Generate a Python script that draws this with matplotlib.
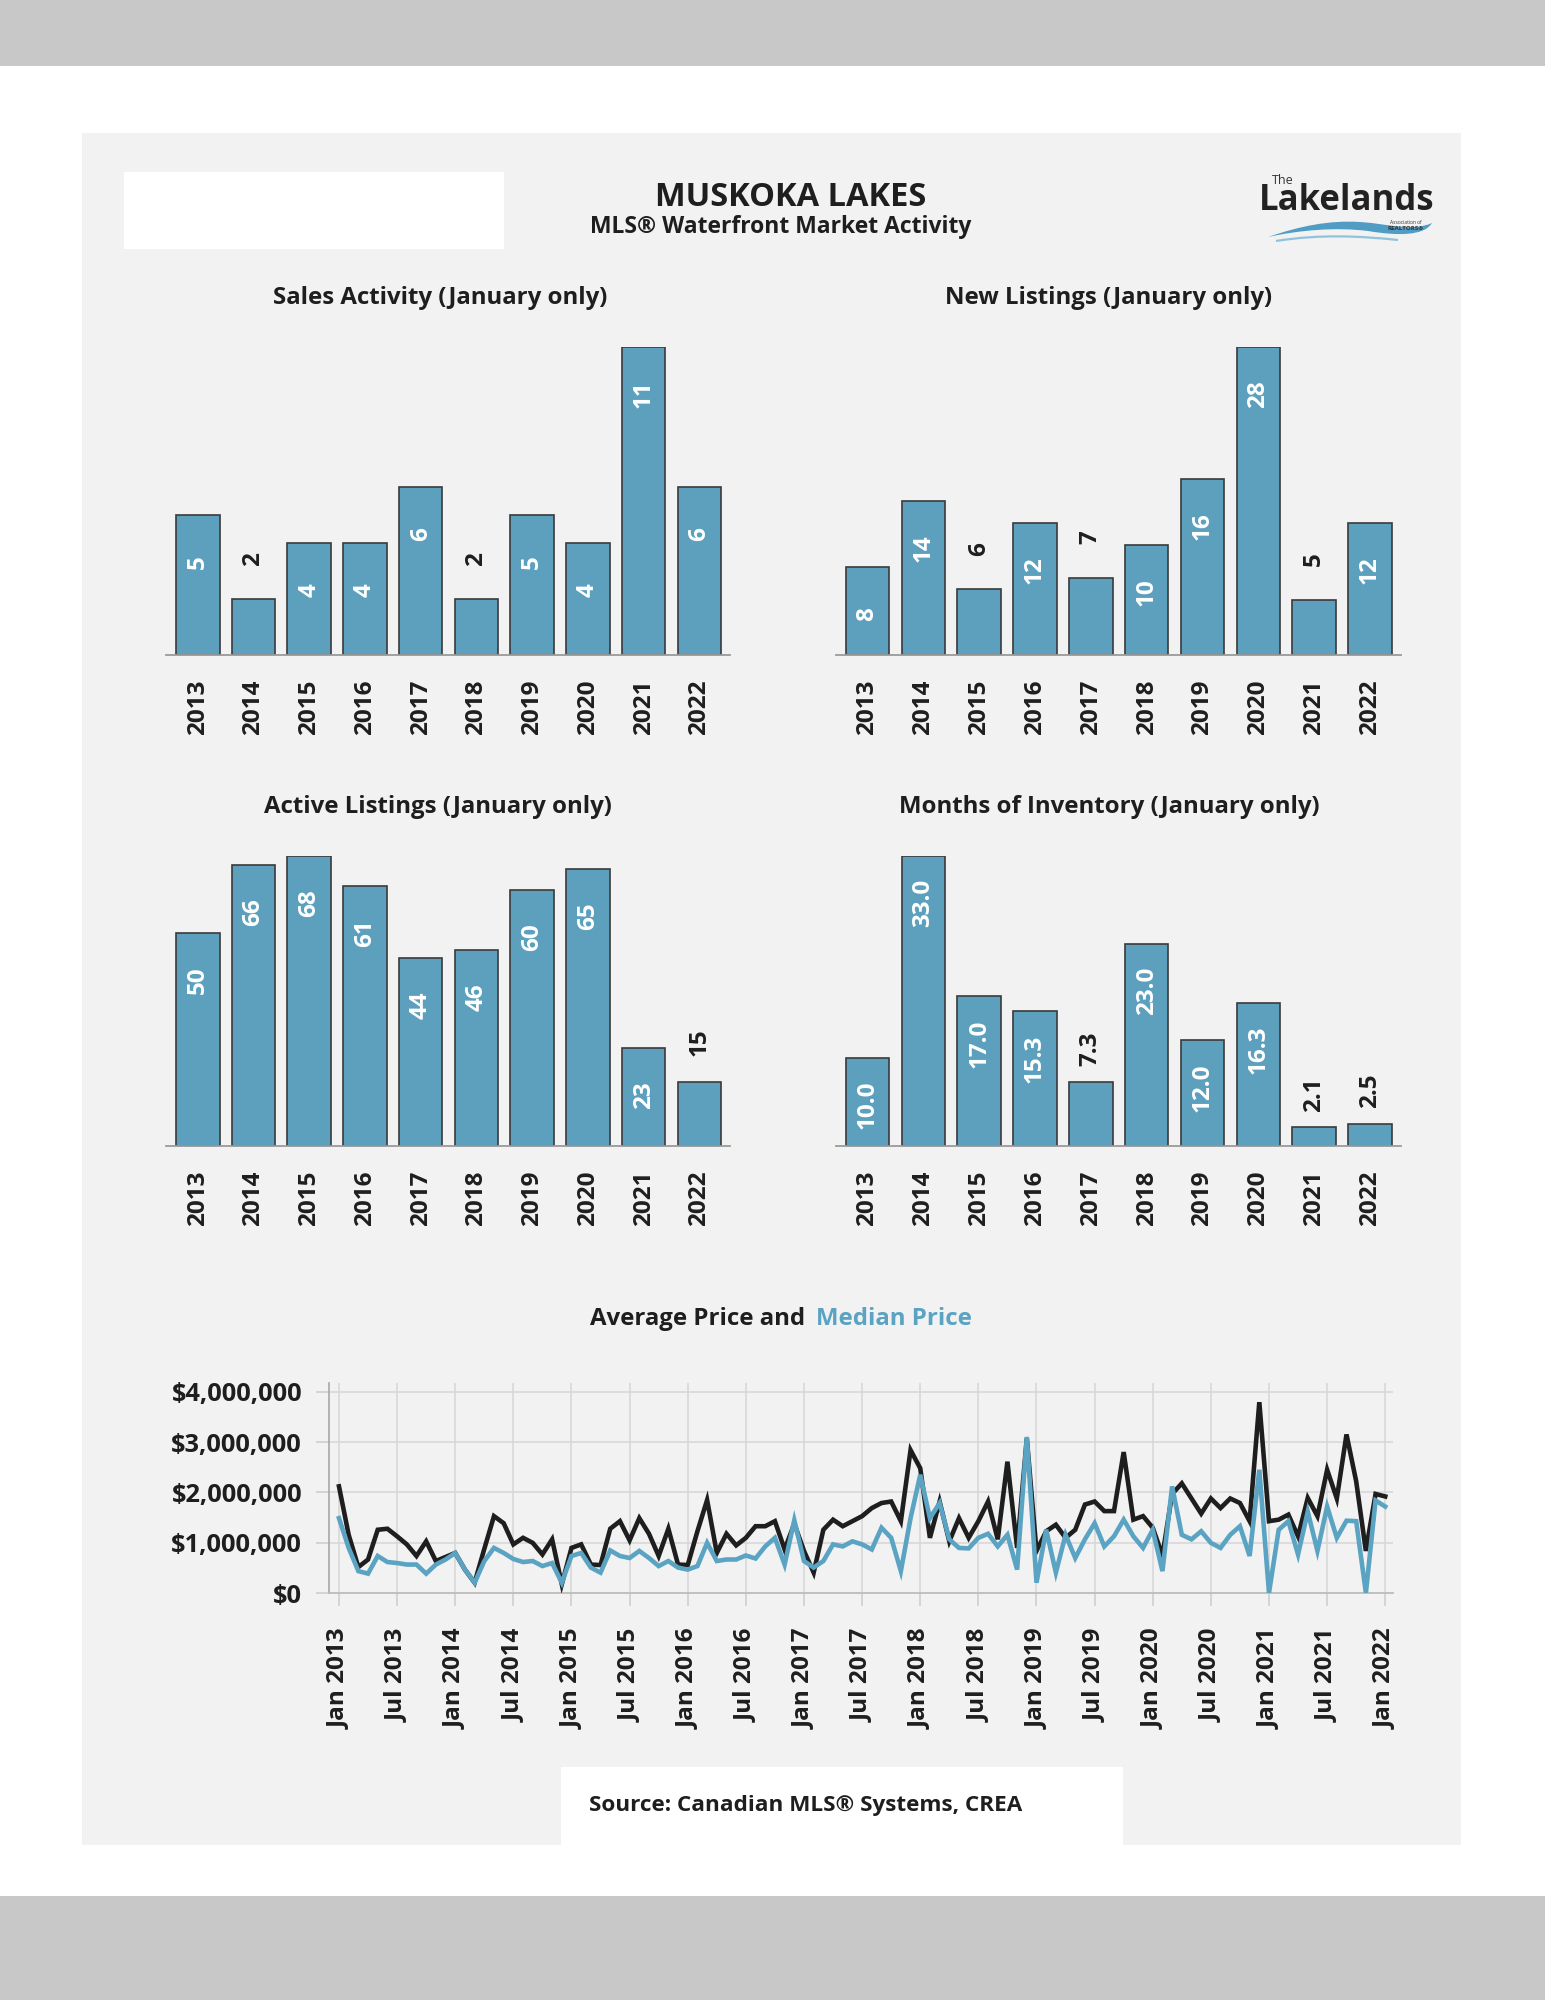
import matplotlib
matplotlib.use("Agg")
import matplotlib.pyplot as plt
from matplotlib.patches import Rectangle, PathPatch
from matplotlib.path import Path

# ---------------- data ----------------
years = ["2013", "2014", "2015", "2016", "2017", "2018", "2019", "2020", "2021", "2022"]
sales = [5, 2, 4, 4, 6, 2, 5, 4, 11, 6]
new_listings = [8, 14, 6, 12, 7, 10, 16, 28, 5, 12]
active_listings = [50, 66, 68, 61, 44, 46, 60, 65, 23, 15]
months_inventory = [10.0, 33.0, 17.0, 15.3, 7.3, 23.0, 12.0, 16.3, 2.1, 2.5]

# monthly prices, Jan 2013 .. Jan 2022 (millions of $)
avg_price_m = [
    2.12, 1.16, 0.52, 0.67, 1.26, 1.28, 1.13, 0.97, 0.74, 1.03, 0.64, 0.72,  # 2013
    0.80, 0.47, 0.21, 0.88, 1.53, 1.39, 0.97, 1.10, 1.00, 0.77, 1.07, 0.18,  # 2014
    0.90, 0.97, 0.57, 0.56, 1.28, 1.43, 1.05, 1.49, 1.18, 0.74, 1.28, 0.57,  # 2015
    0.56, 1.23, 1.85, 0.80, 1.18, 0.95, 1.10, 1.33, 1.33, 1.43, 0.87, 1.38,  # 2016
    0.84, 0.41, 1.26, 1.46, 1.33, 1.43, 1.53, 1.69, 1.79, 1.82, 1.43, 2.84,  # 2017
    2.48, 1.10, 1.82, 1.03, 1.49, 1.10, 1.43, 1.82, 1.07, 2.61, 0.90, 3.07,  # 2018
    0.84, 1.23, 1.36, 1.10, 1.26, 1.76, 1.82, 1.63, 1.63, 2.80, 1.46, 1.53,  # 2019
    1.30, 0.75, 1.97, 2.18, 1.88, 1.58, 1.88, 1.69, 1.88, 1.79, 1.43, 3.79,  # 2020
    1.43, 1.46, 1.56, 1.13, 1.89, 1.53, 2.45, 1.88, 3.15, 2.22, 0.84, 1.97,  # 2021
    1.92,                                                                    # 2022
]
median_price_m = [
    1.49, 0.90, 0.44, 0.39, 0.74, 0.62, 0.60, 0.57, 0.57, 0.39, 0.57, 0.67,  # 2013
    0.80, 0.47, 0.21, 0.64, 0.90, 0.80, 0.68, 0.62, 0.64, 0.54, 0.60, 0.21,  # 2014
    0.74, 0.80, 0.51, 0.41, 0.85, 0.74, 0.70, 0.84, 0.70, 0.54, 0.64, 0.51,  # 2015
    0.47, 0.54, 1.00, 0.64, 0.67, 0.67, 0.75, 0.69, 0.93, 1.10, 0.57, 1.45,  # 2016
    0.64, 0.51, 0.64, 0.97, 0.93, 1.03, 0.97, 0.87, 1.30, 1.10, 0.44, 1.49,  # 2017
    2.35, 1.49, 1.79, 1.07, 0.90, 0.89, 1.10, 1.18, 0.93, 1.16, 0.47, 3.10,  # 2018
    0.21, 1.26, 0.41, 1.16, 0.70, 1.07, 1.39, 0.93, 1.13, 1.46, 1.13, 0.90,  # 2019
    1.26, 0.44, 2.12, 1.16, 1.07, 1.23, 1.00, 0.90, 1.16, 1.33, 0.74, 2.45,  # 2020
    0.01, 1.26, 1.43, 0.77, 1.62, 0.84, 1.72, 1.10, 1.44, 1.43, 0.01, 1.84,  # 2021
    1.72,                                                                    # 2022
]
avg_price = [v * 1e6 for v in avg_price_m]
median_price = [v * 1e6 for v in median_price_m]

price_tick_labels = ["Jan 2013", "Jul 2013", "Jan 2014", "Jul 2014", "Jan 2015", "Jul 2015",
                     "Jan 2016", "Jul 2016", "Jan 2017", "Jul 2017", "Jan 2018", "Jul 2018",
                     "Jan 2019", "Jul 2019", "Jan 2020", "Jul 2020", "Jan 2021", "Jul 2021",
                     "Jan 2022"]
price_y_ticks = [0, 1e6, 2e6, 3e6, 4e6]
price_y_labels = ["$0", "$1,000,000", "$2,000,000", "$3,000,000", "$4,000,000"]

# ---------------- style ----------------
W, H = 1545, 2000
FONT = "Open Sans"
BAR_COLOR = "#5ca0be"
BAR_EDGE = "#3a3a3a"
PANEL = "#f2f2f2"
BAND = "#c8c8c8"
DARK = "#1e1e1e"
MEDIAN_COLOR = "#5aa3c2"

plt.rcParams["font.family"] = [FONT, "DejaVu Sans"]
plt.rcParams["font.weight"] = "bold"

fig = plt.figure(figsize=(W / 100, H / 100), dpi=100)
fig.patch.set_facecolor("white")


def fx(x):
    return x / W


def fy(y):
    return 1 - y / H


def rect(x0, y0, x1, y1, color):
    fig.patches.append(Rectangle((fx(x0), fy(y1)), (x1 - x0) / W, (y1 - y0) / H,
                                 transform=fig.transFigure, facecolor=color,
                                 edgecolor="none", zorder=-5))


def add_ax(x0, y0, x1, y1):
    return fig.add_axes([fx(x0), fy(y1), (x1 - x0) / W, (y1 - y0) / H])


# background
rect(0, 0, W, 66, BAND)
rect(0, 1896, W, H, BAND)
rect(82, 133, 1461, 1845, PANEL)
rect(124, 172, 504, 249, "white")
rect(561, 1767, 1123, 1845, "white")

# header
fig.text(fx(791), fy(197), "MUSKOKA LAKES", ha="center", va="center",
         fontsize=23.5, fontweight="bold", color=DARK)
fig.text(fx(781), fy(227), "MLS® Waterfront Market Activity", ha="center", va="center",
         fontsize=16.5, fontweight="bold", color=DARK)

# logo
fig.text(fx(1272), fy(180), "The", ha="left", va="center", fontsize=9,
         color="#333333", fontweight="normal")
fig.text(fx(1347), fy(201), "Lakelands", ha="center", va="center", fontsize=25,
         fontweight="bold", color="#222222")
fig.text(fx(1390), fy(222), "Association of", ha="left", va="center", fontsize=3.5,
         color="#333333", fontweight="normal")
fig.text(fx(1388), fy(228), "REALTORS®", ha="left", va="center", fontsize=4.5,
         color="#333333", fontweight="bold")
lax = add_ax(1262, 212, 1438, 244)
lax.set_xlim(1262, 1438)
lax.set_ylim(244, 212)
lax.axis("off")
wave1 = Path([(1268, 237),
              (1300, 226), (1330, 220), (1360, 222),
              (1390, 224), (1412, 232), (1432, 223),
              (1424, 236), (1398, 236), (1368, 231),
              (1336, 227), (1300, 230), (1268, 237)],
             [Path.MOVETO, Path.CURVE4, Path.CURVE4, Path.CURVE4,
              Path.CURVE4, Path.CURVE4, Path.CURVE4,
              Path.CURVE4, Path.CURVE4, Path.CURVE4,
              Path.CURVE4, Path.CURVE4, Path.CURVE4])
lax.add_patch(PathPatch(wave1, facecolor="#4f9cc4", edgecolor="none"))
wave2 = Path([(1276, 241), (1320, 234), (1360, 236), (1398, 240)],
             [Path.MOVETO, Path.CURVE4, Path.CURVE4, Path.CURVE4])
lax.add_patch(PathPatch(wave2, facecolor="none", edgecolor="#8fc3dd", lw=1.6))


# ---------------- bar charts ----------------
def bar_panel(box, values, title, title_xy, decimals=False, out_off=40):
    ax = add_ax(*box)
    ax.set_facecolor("none")
    x = list(range(len(values)))
    vmax = max(values)
    ax.bar(x, values, width=0.78, color=BAR_COLOR, edgecolor=BAR_EDGE, linewidth=1.2, zorder=2)
    ax.set_xlim(-0.57, 9.55)
    ax.set_ylim(0, vmax)
    for s in ["top", "right", "left"]:
        ax.spines[s].set_visible(False)
    ax.spines["bottom"].set_color("#9a9a9a")
    ax.spines["bottom"].set_linewidth(1.3)
    ax.spines["bottom"].set_zorder(3)
    ax.set_yticks([])
    ax.set_xticks(x)
    ax.set_xticklabels(years, rotation=90, fontsize=17.5, fontweight="bold", color=DARK)
    ax.tick_params(axis="x", length=0, pad=18)
    for xi, v in zip(x, values):
        lbl = f"{v:.1f}" if decimals else f"{v}"
        if v / vmax >= 0.27:
            ax.annotate(lbl, (xi, v), xytext=(0, -34), textcoords="offset points",
                        rotation=90, ha="center", va="center", fontsize=17.5,
                        fontweight="bold", color="white", zorder=4)
        else:
            ax.annotate(lbl, (xi, v), xytext=(0, out_off * 0.72), textcoords="offset points",
                        rotation=90, ha="center", va="center", fontsize=17.5,
                        fontweight="bold", color=DARK, zorder=4)
    fig.text(fx(title_xy[0]), fy(title_xy[1]), title, ha="center", va="center",
             fontsize=17.3, fontweight="bold", color=DARK)
    return ax


bar_panel((166, 347, 730, 654.5), sales, "Sales Activity (January only)", (440, 298))
bar_panel((835.6, 347, 1400.8, 654.5), new_listings, "New Listings (January only)", (1109, 298))
bar_panel((166, 856, 730, 1145.7), active_listings, "Active Listings (January only)", (438, 807))
bar_panel((835.6, 856, 1400.8, 1145.7), months_inventory, "Months of Inventory (January only)",
          (1109, 807), decimals=True, out_off=33)

# ---------------- price line chart ----------------
pax = add_ax(329, 1383, 1393, 1593.3)
pax.set_facecolor("none")
months = list(range(len(avg_price)))
pax.plot(months, avg_price, color=DARK, lw=3.3, zorder=3, solid_joinstyle="miter")
pax.plot(months, median_price, color=MEDIAN_COLOR, lw=3.3, zorder=4, solid_joinstyle="miter")
pax.set_xlim(-1.03, 108.8)
pax.set_ylim(0, 4.17e6)
pax.set_yticks(price_y_ticks)
pax.set_yticklabels(price_y_labels, fontsize=18.3, fontweight="bold", color=DARK)
pax.set_xticks(list(range(0, len(avg_price), 6)))
pax.set_xticklabels(price_tick_labels, rotation=90, fontsize=17.5, fontweight="bold", color=DARK)
pax.grid(True, color="#d6d6d6", lw=1.1, zorder=0)
pax.tick_params(axis="both", color="#cccccc", width=1.1, length=9.4)
pax.tick_params(axis="y", pad=10)
pax.tick_params(axis="x", pad=16)
for s in ["top", "right"]:
    pax.spines[s].set_visible(False)
pax.spines["left"].set_color("#a8a8a8")
pax.spines["left"].set_linewidth(1.2)
pax.spines["bottom"].set_color("#bdbdbd")
pax.spines["bottom"].set_linewidth(1.3)

fig.text(fx(805), fy(1319), "Average Price and", ha="right", va="center",
         fontsize=17.3, fontweight="bold", color=DARK)
fig.text(fx(816), fy(1319), "Median Price", ha="left", va="center",
         fontsize=17.3, fontweight="bold", color=MEDIAN_COLOR)

# source
fig.text(fx(806), fy(1805), "Source: Canadian MLS® Systems, CREA", ha="center", va="center",
         fontsize=16.2, fontweight="bold", color=DARK)

fig.savefig("out.png", dpi=100)
